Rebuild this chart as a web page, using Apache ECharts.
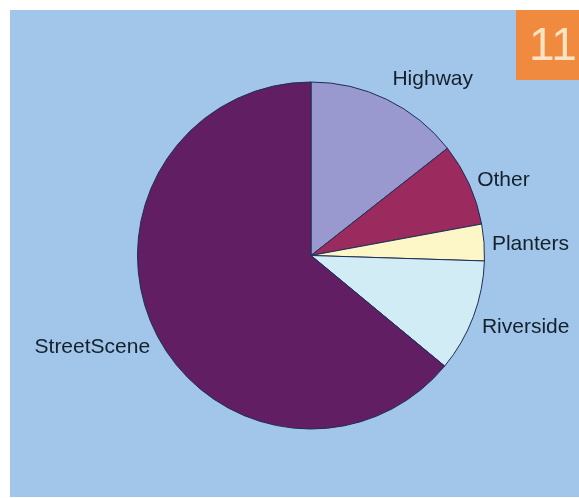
<!DOCTYPE html>
<html>
<head>
<meta charset="utf-8">
<script src="https://cdn.jsdelivr.net/npm/echarts@6/dist/echarts.min.js"></script>
<style>
  html, body { margin: 0; padding: 0; background: #ffffff; }
  #chart { width: 579px; height: 498px; }
</style>
</head>
<body>
<div id="chart"></div>
<script>
// Share of work by area (percent)
const categories = ['Highway', 'Other', 'Planters', 'Riverside', 'StreetScene'];
const shares = [14.4, 7.7, 3.4, 10.5, 64.0];
const sliceColors = ['#9a99cf', '#9b2b5f', '#fdf6c6', '#d2ecf6', '#621e62'];
const badgeText = '11';

// Small nudges applied on top of the library's outside label placement
const labelNudges = [[-4, 0], [-12, 5], [-14, 3], [-12, 3], [16, 8]];

const chart = echarts.init(document.getElementById('chart'), null, { renderer: 'canvas' });

chart.setOption({
  backgroundColor: '#ffffff',
  animation: false,
  graphic: [
    { type: 'rect', shape: { x: 10, y: 10, width: 569, height: 487 }, style: { fill: '#a1c6e9' }, z: -10 },
    { type: 'rect', shape: { x: 516, y: 10, width: 63, height: 70 }, style: { fill: '#f08a3e' }, z: 10 },
    {
      type: 'text', x: 553, y: 47, z: 11,
      style: {
        text: badgeText, fill: '#fde3c4', font: '46px "Liberation Sans Narrow", "Liberation Sans", Arial, sans-serif',
        align: 'center', verticalAlign: 'middle'
      }
    }
  ],
  series: [{
    type: 'pie',
    center: [311, 255.5],
    radius: [0, 173.5],
    startAngle: 90,
    clockwise: true,
    avoidLabelOverlap: false,
    data: categories.map((name, i) => ({
      name,
      value: shares[i],
      itemStyle: { color: sliceColors[i] }
    })),
    itemStyle: { borderColor: '#1d2f55', borderWidth: 1 },
    label: {
      show: true,
      position: 'outside',
      formatter: '{b}',
      color: '#14202c',
      fontFamily: '"Liberation Sans", Arial, sans-serif',
      fontSize: 21,
      distanceToLabelLine: 0
    },
    labelLine: { show: false, length: 22, length2: 0 },
    labelLayout: (p) => {
      const n = labelNudges[p.dataIndex] || [0, 0];
      return { dx: n[0], dy: n[1] };
    },
    emphasis: { disabled: true }
  }]
});
</script>
</body>
</html>
